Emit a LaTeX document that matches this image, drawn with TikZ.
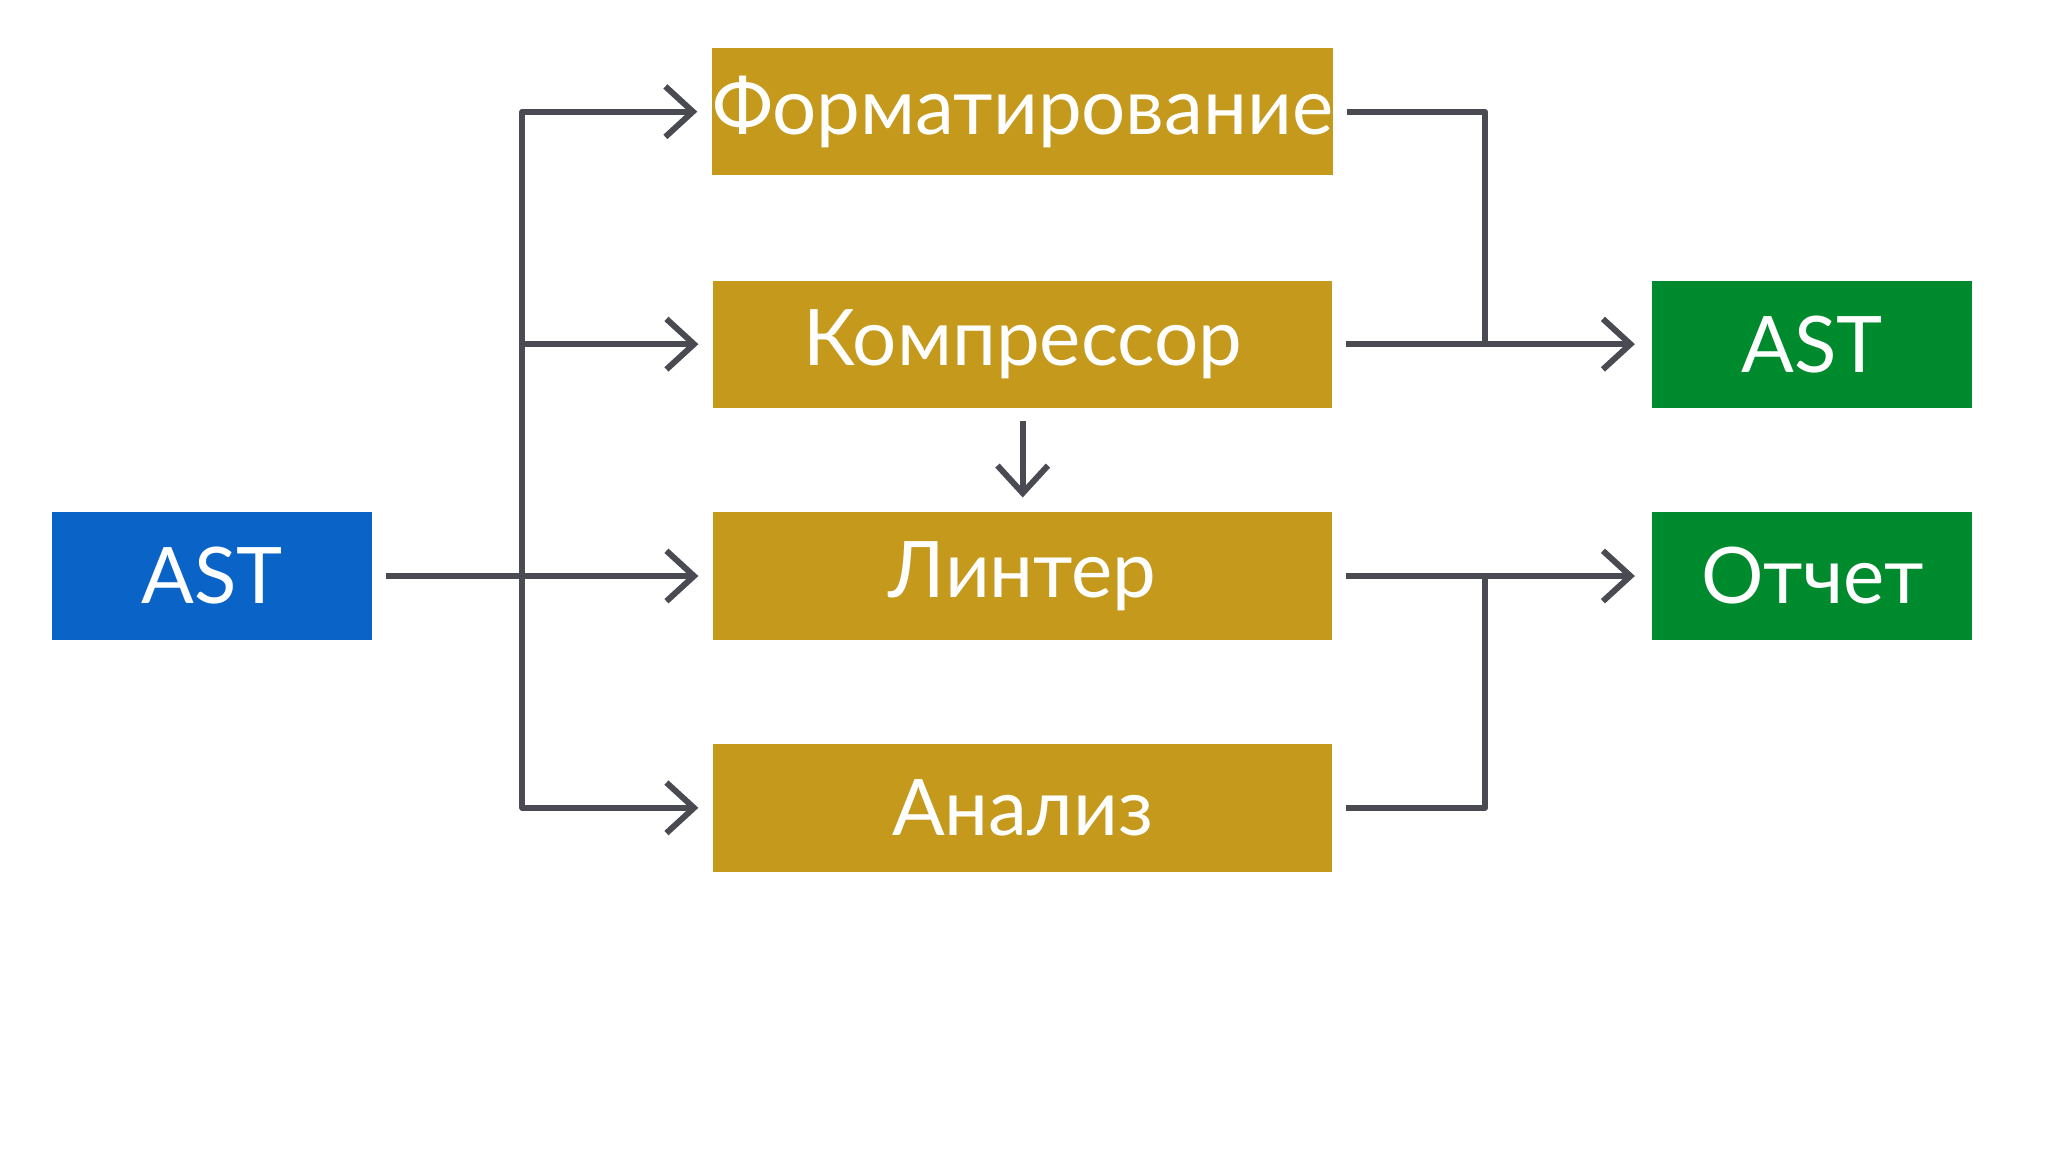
\documentclass[tikz,border=0pt]{standalone}
\usepackage{fontspec}
\setmainfont{Lato}
\usetikzlibrary{arrows.meta}
\definecolor{gold}{HTML}{C4991C}
\definecolor{blu}{HTML}{0A64C8}
\definecolor{grn}{HTML}{008A2E}
\definecolor{ln}{HTML}{4A4B52}
\begin{document}
\begin{tikzpicture}[x=0.02cm,y=-0.02cm,
  box/.style={minimum width=9.48cm,minimum height=1.95cm,fill=gold,text=white,font=\fontsize{34}{40}\selectfont,inner sep=0pt},
  sbox/.style={minimum width=4.9cm,minimum height=1.95cm,text=white,font=\fontsize{34}{40}\selectfont,inner sep=0pt},
  conn/.style={draw=ln,line width=2.6pt,line join=round},
  arr/.style={conn,-{Straight Barb[length=12pt,width=22pt,line width=2.6pt]}}]
\useasboundingbox (0,0) rectangle (1568,882);
\node[sbox,fill=blu] (ast) at (162.5,441) {AST};
\node[box] (fmt) at (783,85.5) {Форматирование};
\node[box] (cmp) at (783,263.5) {Компрессор};
\node[box] (lnt) at (783,441) {Линтер};
\node[box] (ana) at (783,618.5) {Анализ};
\node[sbox,fill=grn] (out) at (1387.5,263.5) {AST};
\node[sbox,fill=grn] (rep) at (1387.5,441) {Отчет};
\coordinate (j) at (400,441);
\draw[conn] ([xshift=0.2cm]ast.east) -- (j);
\draw[arr] (j) -- ([xshift=-0.22cm]lnt.west);
\draw[arr] (j) |- ([xshift=-0.22cm]fmt.west);
\draw[arr] (j) |- ([xshift=-0.22cm]ana.west);
\draw[arr] (400,263.5) -- ([xshift=-0.22cm]cmp.west);
\draw[arr] ([yshift=-0.2cm]cmp.south) -- ([yshift=0.22cm]lnt.north);
\draw[arr] ([xshift=0.2cm]cmp.east) -- ([xshift=-0.26cm]out.west);
\draw[conn] ([xshift=0.2cm]fmt.east) -| (1137,263.5);
\draw[arr] ([xshift=0.2cm]lnt.east) -- ([xshift=-0.26cm]rep.west);
\draw[conn] ([xshift=0.2cm]ana.east) -| (1137,441);
\end{tikzpicture}
\end{document}
